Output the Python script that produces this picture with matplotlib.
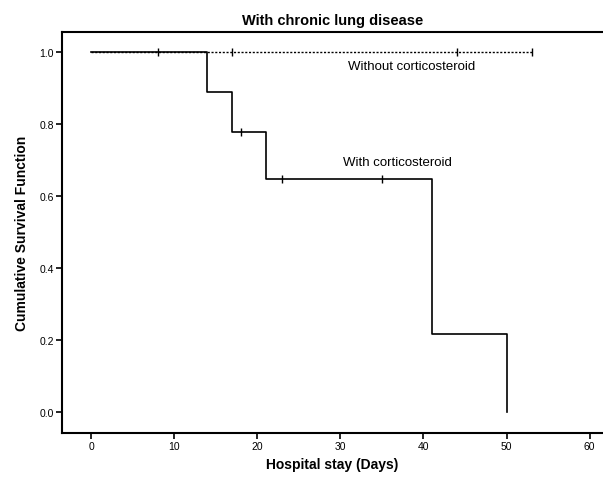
import numpy as np
import matplotlib
matplotlib.use('Agg')
import matplotlib.pyplot as plt

plt.rcParams['font.family'] = ['Liberation Sans', 'DejaVu Sans']

# Kaplan-Meier step data
with_t = [0, 14, 17, 21, 41, 50]
with_s = [1.0, 0.889, 0.778, 0.648, 0.216, 0.0]
with_cens_t = [8, 18, 23, 35]
with_cens_s = [1.0, 0.778, 0.648, 0.648]

without_t = [0, 53]
without_s = [1.0, 1.0]
without_cens_t = [17, 44, 53]
without_cens_s = [1.0, 1.0, 1.0]

xticks = [0, 10, 20, 30, 40, 50, 60]
yticks = [0.0, 0.2, 0.4, 0.6, 0.8, 1.0]

F = 10
fig = plt.figure(figsize=(6.03, 4.81), dpi=100)
ax = fig.add_axes([62/603, 1-434/481, 541/603, 401/481])

ax.step(without_t, without_s, where='post', color='k', ls=(0, (1.5, 1.2)), lw=1.0)
ax.plot(without_cens_t, without_cens_s, 'k|', ms=6, mew=1.0)

ax.step(with_t, with_s, where='post', color='k', lw=1.2)
ax.plot(with_cens_t, with_cens_s, 'k|', ms=6, mew=1.0)

ax.text(30.9, 0.96, "Without corticosteroid", fontsize=9.5, va='center', ha='left')
ax.text(30.3, 0.694, "With corticosteroid", fontsize=9.5, va='center', ha='left')

ax.set_xlim(-3.5, 61.6)
ax.set_ylim(-0.058, 1.055)
ax.set_xticks(xticks)
ax.set_yticks(yticks)
ax.set_xticklabels([str(v) for v in xticks], fontsize=7.5)
ax.set_yticklabels(["%1.1f" % v for v in yticks], fontsize=7.5)
ax.tick_params(direction='out', length=4, width=1.2, pad=2)

for sp in ['left', 'bottom', 'top', 'right']:
    ax.spines[sp].set_linewidth(1.5)
ax.spines['right'].set_visible(False)

ax.set_xlabel('Hospital stay (Days)', fontsize=F, fontweight='bold', labelpad=4)
ax.set_ylabel('Cumulative Survival Function', fontsize=F, fontweight='bold', labelpad=7)
ax.set_title('With chronic lung disease', fontsize=F+0.5, fontweight='bold', pad=6)

plt.savefig('out.png', dpi=100)
